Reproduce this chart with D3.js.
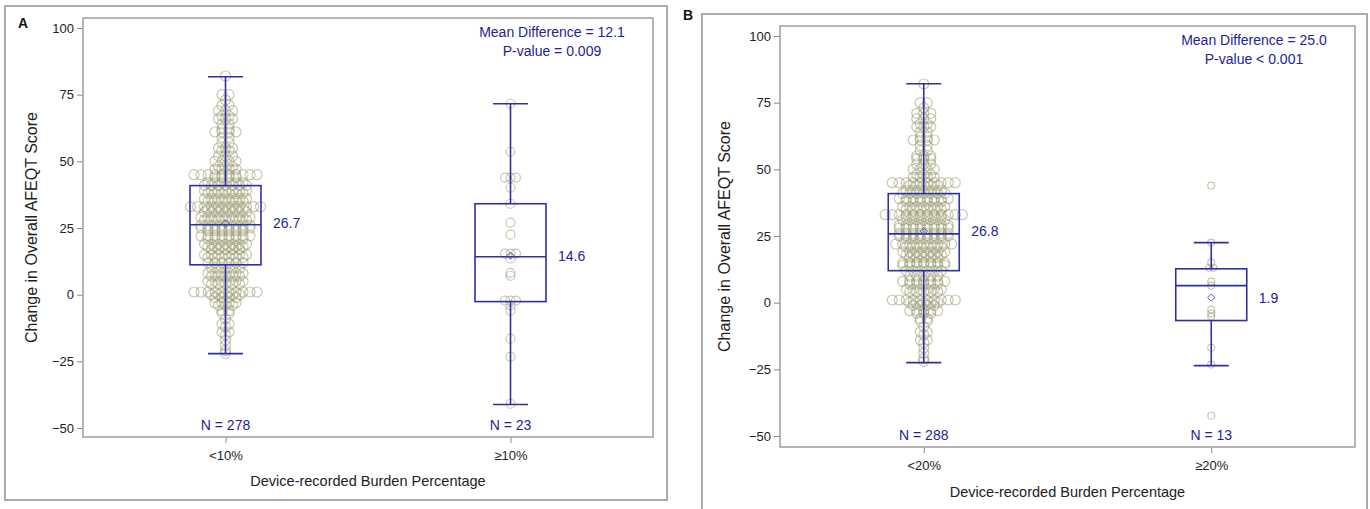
<!DOCTYPE html>
<html><head><meta charset="utf-8">
<script src="https://cdn.jsdelivr.net/npm/d3@7"></script>
<style>body{margin:0;background:#fff} text{font-family:"Liberation Sans",Arial,sans-serif}</style>
</head><body><svg id="c" width="1370" height="509"></svg>
<script>
// ---------- DATA ----------
const categoriesA = ["<10%", "\u226510%"];
const categoriesB = ["<20%", "\u226520%"];
const countsA = [278, 23];
const countsB = [288, 13];
const meansA = [26.7, 14.6];
const meansB = [26.8, 1.9];
const whiskerLowA = [-22.1, -41.2];
const q1A = [11.2, -2.6];
const medianA = [26.2, 14.2];
const q3A = [40.9, 34.1];
const whiskerHighA = [81.7, 71.6];
const whiskerLowB = [-22.5, -23.6];
const q1B = [12.0, -6.7];
const medianB = [25.8, 6.4];
const q3B = [40.9, 12.7];
const whiskerHighB = [82.1, 22.5];
const yTicks = [-50, -25, 0, 25, 50, 75, 100];
const statTextA = ["Mean Difference = 12.1", "P-value = 0.009"];
const statTextB = ["Mean Difference = 25.0", "P-value < 0.001"];
const panelLabels = ["A", "B"];
const xTitle = "Device-recorded Burden Percentage";
const yTitle = "Change in Overall AFEQT Score";
// observations as [value, number of patients with that value]
const obsA1 = [[82,1],[75,2],[73,1],[71,2],[69,3],[67,2],[66,3],[64,2],[62,2],[61,4],[59,2],[57,2],[55,3],[54,2],[52,3],[50,4],[48,3],[47,4],[45,10],[44,4],[42,6],[41,7],
  [39,7],[38,6],[36,7],[35,6],[33,11],[32,6],[31,7],[29,8],[28,7],[26,8],[25,8],[24,6],[22,8],[21,6],[19,7],[18,6],[17,5],[15,7],[14,6],[12,6],
  [10,5],[8,6],[7,5],[5,6],[4,5],[1,10],[0,5],[-1,4],[-3,4],[-4,3],[-6,2],[-7,2],[-9,1],[-11,2],[-12,1],[-14,2],[-15,1],[-17,1],[-19,1],[-21,1],[-22,1]];
const obsA2 = [[71.6,1],[53.6,1],[43.9,3],[40.1,1],[34.1,1],[27,1],[22.5,1],[15.4,3],[13.6,1],[8.2,1],[7.1,1],[-2.2,3],[-4,1],[-6,1],[-16.5,1],[-23.2,1],[-40.9,1]];
const obsB1 = [[82,1],[75,2],[73,1],[71,3],[69,3],[67,2],[66,3],[64,2],[62,2],[61,4],[59,2],[57,2],[55,3],[54,3],[52,3],[50,4],[48,3],[47,4],[45,10],[44,5],[42,6],[41,7],
  [39,8],[38,6],[36,7],[35,6],[33,12],[32,6],[31,7],[29,8],[28,8],[26,8],[25,8],[24,6],[22,9],[21,6],[19,7],[18,6],[17,5],[15,7],[14,7],[12,6],
  [10,5],[8,7],[7,5],[5,6],[4,5],[1,10],[0,5],[-1,4],[-3,5],[-4,3],[-6,2],[-7,2],[-9,1],[-11,2],[-12,1],[-14,2],[-15,1],[-17,1],[-19,1],[-21,1],[-22,1]];
const obsB2 = [[43.9,1],[22.5,1],[15,1],[13.1,2],[7.9,1],[6.4,1],[-2.6,1],[-4.1,1],[-5.2,1],[-16.9,1],[-23.2,1],[-42.4,1]];

// ---------- DRAW ----------
const svg = d3.select("#c");
const BLUE = "#2f2fa6", TXTBLUE = "#23239a";

function panel(cfg) {
  const g = svg.append("g");
  g.append("rect").attr("x", cfg.outer[0]).attr("y", cfg.outer[1])
    .attr("width", cfg.outer[2]-cfg.outer[0]).attr("height", cfg.outer[3]-cfg.outer[1])
    .attr("fill", "none").attr("stroke", "#ababab").attr("stroke-width", 2);
  g.append("text").attr("x", cfg.labelPos[0]).attr("y", cfg.labelPos[1])
    .attr("font-size", 14).attr("font-weight", "bold").attr("fill", "#111").text(cfg.label);

  const [L, T, R, B] = cfg.frame;
  const y = d3.scaleLinear().domain([-50, 100]).range(cfg.yRange);
  const x = d3.scalePoint().domain(cfg.cats).range([L, R]).padding(0.5);

  // axes
  const ya = g.append("g").attr("transform", `translate(${L},0)`)
    .call(d3.axisLeft(y).tickValues(yTicks).tickSize(6).tickPadding(3));
  ya.select(".domain").remove();
  ya.selectAll("line").attr("stroke", "#888");
  ya.selectAll("text").attr("font-size", 13).attr("fill", "#222").attr("font-family", "Liberation Sans, Arial, sans-serif");
  const xa = g.append("g").attr("transform", `translate(0,${B})`)
    .call(d3.axisBottom(x).tickSize(6).tickPadding(8));
  xa.select(".domain").remove();
  xa.selectAll("line").attr("stroke", "#888");
  xa.selectAll("text").attr("font-size", 13).attr("fill", "#222").attr("font-family", "Liberation Sans, Arial, sans-serif");

  g.append("text").attr("x", (L+R)/2).attr("y", cfg.xTitleY).attr("text-anchor", "middle")
    .attr("font-size", 14.5).attr("fill", "#222").text(xTitle);
  g.append("text").attr("transform", `translate(${cfg.yTitleX},${(T+B)/2}) rotate(-90)`)
    .attr("text-anchor", "middle").attr("font-size", 16).attr("fill", "#222").text(yTitle);

  // points
  cfg.obs.forEach((rows, gi) => {
    const cx = x(cfg.cats[gi]);
    const sp = cfg.spacing[gi], r = cfg.radius[gi];
    const pts = [];
    rows.forEach(([v, n]) => {
      for (let i = 0; i < n; i++) pts.push({v, dx: (i - (n-1)/2) * sp});
    });
    g.append("g").selectAll("circle").data(pts).join("circle")
      .attr("cx", d => cx + d.dx).attr("cy", d => y(d.v)).attr("r", r)
      .attr("fill", "none").attr("stroke", "#9a9a72").attr("stroke-opacity", 0.55).attr("stroke-width", 1.2);
  });

  // boxes
  const bw = 71, cw = 35;
  cfg.cats.forEach((c, i) => {
    const cx = x(c);
    const bg = g.append("g").attr("stroke", BLUE).attr("stroke-width", 1.6).attr("fill", "none");
    bg.append("line").attr("x1", cx).attr("x2", cx).attr("y1", y(cfg.q3[i])).attr("y2", y(cfg.hi[i]));
    bg.append("line").attr("x1", cx).attr("x2", cx).attr("y1", y(cfg.q1[i])).attr("y2", y(cfg.lo[i]));
    bg.append("line").attr("x1", cx-cw/2).attr("x2", cx+cw/2).attr("y1", y(cfg.hi[i])).attr("y2", y(cfg.hi[i]));
    bg.append("line").attr("x1", cx-cw/2).attr("x2", cx+cw/2).attr("y1", y(cfg.lo[i])).attr("y2", y(cfg.lo[i]));
    bg.append("rect").attr("x", cx-bw/2).attr("width", bw).attr("y", y(cfg.q3[i])).attr("height", y(cfg.q1[i]) - y(cfg.q3[i]));
    bg.append("line").attr("x1", cx-bw/2).attr("x2", cx+bw/2).attr("y1", y(cfg.med[i])).attr("y2", y(cfg.med[i]));
    g.append("path").attr("d", d3.symbol(d3.symbolDiamond2, 34)())
      .attr("transform", `translate(${cx},${y(cfg.means[i])})`)
      .attr("fill", "none").attr("stroke", "#5a5ab8").attr("stroke-width", 1);
    g.append("text").attr("x", cx + bw/2 + 12).attr("y", y(cfg.means[i])).attr("dy", "0.35em")
      .attr("font-size", 14).attr("fill", TXTBLUE).text(cfg.means[i].toFixed(1));
    g.append("text").attr("x", cx).attr("y", B - 7).attr("text-anchor", "middle")
      .attr("font-size", 14).attr("fill", TXTBLUE).text("N = " + cfg.counts[i]);
  });

  cfg.stat.forEach((s, i) => {
    g.append("text").attr("x", R - 101).attr("y", T + 19 + i*19).attr("text-anchor", "middle")
      .attr("font-size", 14).attr("fill", TXTBLUE).text(s);
  });

  // frame
  g.append("rect").attr("x", L).attr("y", T).attr("width", R-L).attr("height", B-T)
    .attr("fill", "none").attr("stroke", "#a3a3a3").attr("stroke-width", 1.6);
}

panel({
  outer: [5, 6, 667, 500], label: panelLabels[0], labelPos: [18, 28],
  frame: [83, 18, 653, 437], yRange: [428, 28], cats: categoriesA,
  obs: [obsA1, obsA2], spacing: [7, 5.5], radius: [5, 4.5],
  q1: q1A, q3: q3A, med: medianA, lo: whiskerLowA, hi: whiskerHighA, means: meansA, counts: countsA,
  stat: statTextA, xTitleY: 486, yTitleX: 37
});
panel({
  outer: [702, 14, 1367, 530], label: panelLabels[1], labelPos: [683, 20],
  frame: [780, 26, 1355, 447], yRange: [436, 36], cats: categoriesB,
  obs: [obsB1, obsB2], spacing: [7, 4], radius: [5, 3.5],
  q1: q1B, q3: q3B, med: medianB, lo: whiskerLowB, hi: whiskerHighB, means: meansB, counts: countsB,
  stat: statTextB, xTitleY: 497, yTitleX: 730
});
</script></body></html>
